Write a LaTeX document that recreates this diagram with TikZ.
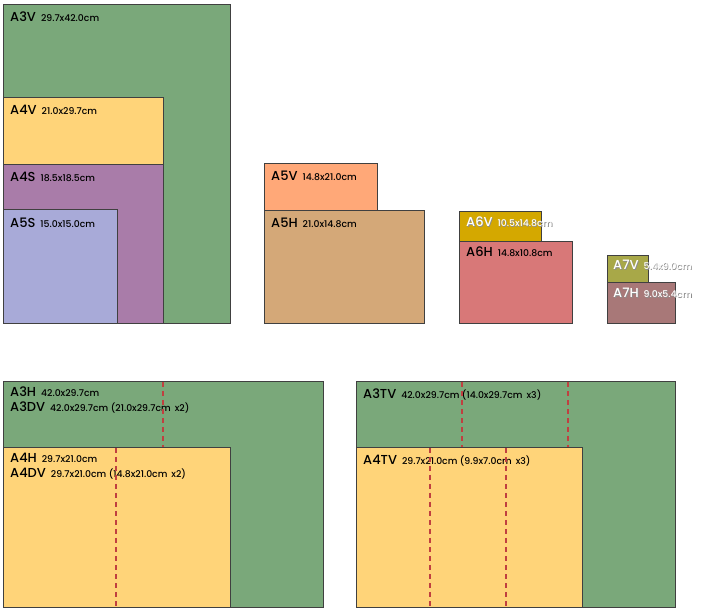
\documentclass[tikz,border=0pt]{standalone}
\usepackage{fontspec}
\setmainfont{Poppins}[UprightFont={* Medium},BoldFont={* SemiBold}]
\definecolor{sheetgreen}{RGB}{122,168,122}
\definecolor{sheetyellow}{RGB}{255,212,121}
\definecolor{sheetpurple}{RGB}{169,124,169}
\definecolor{sheetblue}{RGB}{168,170,216}
\definecolor{sheetsalmon}{RGB}{255,168,120}
\definecolor{sheettan}{RGB}{212,168,120}
\definecolor{sheetgold}{RGB}{212,168,0}
\definecolor{sheetrose}{RGB}{216,120,120}
\definecolor{sheetolive}{RGB}{168,168,72}
\definecolor{sheetmauve}{RGB}{168,120,120}
\definecolor{foldred}{RGB}{192,64,64}
\newcommand\fmt[2]{{\fontsize{13}{14}\selectfont #1}\hspace{5pt}{\fontsize{9.3}{10}\selectfont #2}}
\tikzset{
        sheet/.style={draw=black!75,line width=0.8pt},
    }

\begin{document}
\begin{tikzpicture}[x=1pt,y=-1pt,
          tag/.style = {anchor=base west,inner sep=0pt},
          whitetag/.style = {tag,text=white},
          shadowtag/.style = {tag,text=black!45},
          fold/.style = {draw=foldred,line width=1.6pt,dash pattern=on 5pt off 4pt}
          ]
 \useasboundingbox (0,0) rectangle (713,612);
          % upper row
          \draw[sheet,fill=sheetgreen] (3,4) rectangle (230,323);
          \draw[sheet,fill=sheetyellow] (3,97) rectangle (163,164);
          \draw[sheet,fill=sheetpurple] (3,164) rectangle (163,323);
          \draw[sheet,fill=sheetblue] (3,209) rectangle (117,323);
          \node[tag] (@a3v) at (10,22) {\fmt{A3V}{29.7x42.0cm}};
          \node[tag] (@a4v) at (10,115) {\fmt{A4V}{21.0x29.7cm}};
          \node[tag] (@a4s) at (10,182) {\fmt{A4S}{18.5x18.5cm}};
          \node[tag] (@a5s) at (10,228) {\fmt{A5S}{15.0x15.0cm}};
          \draw[sheet,fill=sheetsalmon] (264,163) rectangle (377,210);
          \draw[sheet,fill=sheettan] (264,210) rectangle (424,323);
          \node[tag] (@a5v) at (271,181) {\fmt{A5V}{14.8x21.0cm}};
          \node[tag] (@a5h) at (271,228) {\fmt{A5H}{21.0x14.8cm}};
          \draw[sheet,fill=sheetgold] (459,211) rectangle (541,241);
          \draw[sheet,fill=sheetrose] (459,241) rectangle (572,323);
          \node[shadowtag] at (466.8,227.8) {\fmt{A6V}{10.5x14.8cm}};
          \node[whitetag] (@a6v) at (466,227) {\fmt{A6V}{10.5x14.8cm}};
          \node[tag] (@a6h) at (466,257) {\fmt{A6H}{14.8x10.8cm}};
          \draw[sheet,fill=sheetolive] (607,255) rectangle (648,282);
          \draw[sheet,fill=sheetmauve] (607,282) rectangle (675,323);
          \node[shadowtag] at (613.8,270.8) {\fmt{A7V}{5.4x9.0cm}};
          \node[whitetag] (@a7v) at (613,270) {\fmt{A7V}{5.4x9.0cm}};
          \node[shadowtag] at (613.8,298.8) {\fmt{A7H}{9.0x5.4cm}};
          \node[whitetag] (@a7h) at (613,298) {\fmt{A7H}{9.0x5.4cm}};
          % lower row
          \draw[sheet,fill=sheetgreen] (3,381) rectangle (323,607);
          \draw[sheet,fill=sheetyellow] (3,447) rectangle (230,607);
          \node[tag] (@a3h) at (10,397) {\fmt{A3H}{42.0x29.7cm}};
          \node[tag] (@a3dv) at (10,412) {\fmt{A3DV}{42.0x29.7cm (21.0x29.7cm\hspace{4pt}x2)}};
          \node[tag] (@a4h) at (10,463) {\fmt{A4H}{29.7x21.0cm}};
          \node[tag] (@a4dv) at (10,478) {\fmt{A4DV}{29.7x21.0cm (14.8x21.0cm\hspace{4pt}x2)}};
          \draw[fold] (163,382) -- (163,447);
          \draw[fold] (116,448) -- (116,606);
          \draw[sheet,fill=sheetgreen] (356,381) rectangle (675,607);
          \draw[sheet,fill=sheetyellow] (356,447) rectangle (582,607);
          \node[tag] (@a3tv) at (363,399) {\fmt{A3TV}{42.0x29.7cm (14.0x29.7cm\hspace{4pt}x3)}};
          \node[tag] (@a4tv) at (363,465) {\fmt{A4TV}{29.7x21.0cm (9.9x7.0cm\hspace{4pt}x3)}};
          \draw[fold] (462,382) -- (462,447);
          \draw[fold] (568,382) -- (568,447);
          \draw[fold] (430,448) -- (430,606);
          \draw[fold] (506,448) -- (506,606);
        \end{tikzpicture}
\end{document}
